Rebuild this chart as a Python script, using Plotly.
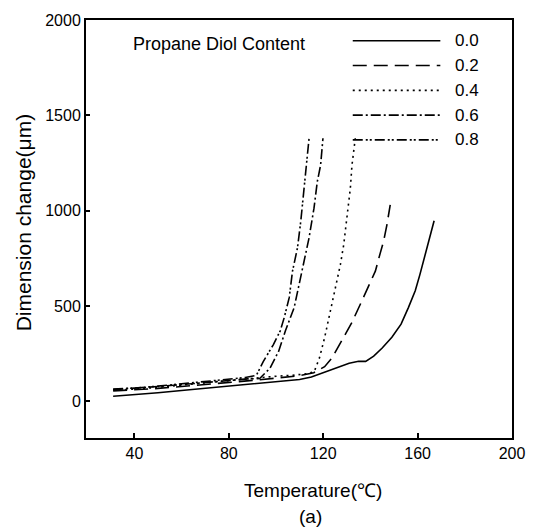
import plotly.graph_objects as go

# ---- data ----
series_names = ["0.0", "0.2", "0.4", "0.6", "0.8"]

t_00 = [31, 40, 50, 60, 70, 80, 90, 100, 110, 115, 121, 126, 131, 135, 138, 141.4, 145, 149.1, 153, 156.1, 159, 161, 163.8, 165.9, 167]
v_00 = [27, 35, 45, 57, 68, 82, 92, 102, 115, 128, 155, 180, 200, 210, 210, 237, 280, 336, 405, 492, 580, 666, 796, 909, 947]

t_02 = [31, 40, 50, 60, 70, 80, 90, 100, 110, 116, 120.6, 123.7, 127.8, 132, 136.4, 140, 142.1, 144.2, 145.6, 147, 148.4]
v_02 = [55, 60, 68, 78, 88, 100, 110, 122, 135, 150, 182, 227, 316, 410, 527, 622, 683, 779, 840, 926, 1030]

t_04 = [31, 40, 50, 60, 70, 80, 90, 100, 108, 113, 116.2, 118.4, 120.6, 123.1, 125.2, 127.3, 128.7, 130.1, 131.5, 132.2, 133.2, 133.6]
v_04 = [60, 64, 74, 86, 98, 110, 122, 132, 138, 145, 156, 227, 334, 475, 596, 718, 822, 961, 1117, 1239, 1340, 1380]

t_06 = [31, 40, 50, 60, 70, 80, 88, 93.1, 97.4, 101.1, 104, 107.7, 109.8, 111.9, 114, 116.1, 117.5, 118.9, 119.9]
v_06 = [62, 68, 78, 88, 100, 112, 118, 120, 173, 262, 370, 492, 614, 735, 857, 1013, 1152, 1239, 1380]

t_08 = [31, 40, 50, 60, 70, 80, 87, 91.7, 94.6, 98.9, 101.8, 103.5, 105.6, 107, 109.1, 110.5, 111.9, 113.3, 114]
v_08 = [65, 70, 80, 92, 105, 118, 125, 137, 209, 298, 370, 440, 544, 683, 805, 944, 1117, 1256, 1378]

x_ticks = [40, 80, 120, 160, 200]
y_ticks = [0, 500, 1000, 1500, 2000]

# ---- styles ----
dashes = ["solid", "14px,7px", "2px,4px", "10px,3px,2px,3px", "10px,3px,2px,2px,2px,3px"]
FONT = "Liberation Sans, Arial, sans-serif"

fig = go.Figure()
for name, t, v, d in zip(series_names, [t_00, t_02, t_04, t_06, t_08],
                         [v_00, v_02, v_04, v_06, v_08], dashes):
    fig.add_trace(go.Scatter(x=t, y=v, mode="lines", name=name,
                             line=dict(color="black", width=1.6, dash=d),
                             showlegend=False))

L, R, T, B = 86, 23, 16, 91
W, H = 537, 529
pw, ph = W - L - R, H - T - B

def px_x(p):
    return (p - L) / pw

def px_y(p):
    return (H - B - p) / ph

# custom legend (line samples + labels)
leg_y = [37, 62, 87, 112, 137]
for name, d, yy in zip(series_names, dashes, leg_y):
    fig.add_shape(type="line", xref="paper", yref="paper",
                  x0=px_x(354), x1=px_x(442), y0=px_y(yy), y1=px_y(yy),
                  line=dict(color="black", width=1.6, dash=d))
    fig.add_annotation(xref="paper", yref="paper", x=px_x(455), y=px_y(yy),
                       text=name, showarrow=False, xanchor="left", yanchor="middle",
                       font=dict(family=FONT, size=17, color="black"))

fig.add_annotation(xref="paper", yref="paper", x=px_x(220), y=px_y(40),
                   text="Propane Diol Content", showarrow=False,
                   xanchor="center", yanchor="middle",
                   font=dict(family=FONT, size=18, color="black"))

fig.add_annotation(xref="paper", yref="paper", x=px_x(314), y=px_y(491),
                   text="Temperature(℃)", showarrow=False,
                   xanchor="center", yanchor="middle",
                   font=dict(family=FONT, size=19, color="black"))
fig.add_annotation(xref="paper", yref="paper", x=px_x(312), y=px_y(517),
                   text="(a)", showarrow=False,
                   xanchor="center", yanchor="middle",
                   font=dict(family=FONT, size=19, color="black"))
fig.add_annotation(xref="paper", yref="paper", x=px_x(23), y=px_y(220),
                   text="Dimension change(μm)", showarrow=False, textangle=-90,
                   xanchor="center", yanchor="middle",
                   font=dict(family=FONT, size=21, color="black"))

fig.update_layout(
    width=W, height=H,
    margin=dict(l=L, r=R, t=T, b=B, pad=0),
    paper_bgcolor="white", plot_bgcolor="white",
    font=dict(family=FONT, size=16, color="black"),
)
fig.update_xaxes(range=[19.5, 200], tickvals=x_ticks, ticks="inside", ticklen=5,
                 tickwidth=1.5, tickcolor="black", showline=True, linecolor="black",
                 linewidth=2, mirror=True, showgrid=False, zeroline=False,
                 tickfont=dict(family=FONT, size=16, color="black"))
fig.update_yaxes(range=[-192, 2000], tickvals=y_ticks, ticks="inside", ticklen=4,
                 tickwidth=1.5, tickcolor="black", showline=True, linecolor="black",
                 linewidth=2, mirror=True, showgrid=False, zeroline=False,
                 tickfont=dict(family=FONT, size=16, color="black"))

fig.write_html("out.html")
